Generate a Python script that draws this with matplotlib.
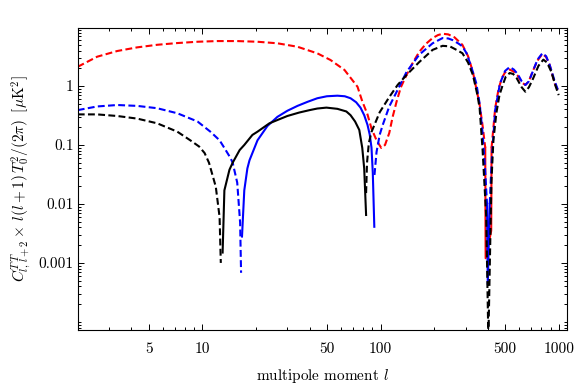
import numpy as np
import matplotlib
matplotlib.use("Agg")
import matplotlib.pyplot as plt
from matplotlib.ticker import FixedLocator, FixedFormatter, NullFormatter

plt.rcParams['font.family'] = 'serif'
plt.rcParams['font.serif'] = ['cmr10']
plt.rcParams['mathtext.fontset'] = 'cm'
plt.rcParams['axes.formatter.use_mathtext'] = True

# ---- data (l, |C_l| * l(l+1) T0^2 / 2pi) ----
# red: dashed everywhere except a short solid piece in the l~400 trough
red_dash_a_l = [2, 2.57, 3.33, 4.31, 5.58, 7.24, 9.4, 12.1, 15.7, 20.4, 26.4, 34.2, 44.2,
                52.4, 62.8, 74.3, 79, 84.5, 89, 95, 101, 106, 112, 117, 123, 130, 140,
                152, 165, 180, 196, 210, 223, 240, 260, 288, 310, 330, 345, 360, 375, 387]
red_dash_a_v = [2.12, 3.14, 3.92, 4.52, 5.0, 5.35, 5.63, 5.78, 5.78, 5.63, 5.3, 4.63, 3.58,
                2.76, 1.87, 0.97, 0.55, 0.33, 0.19, 0.12, 0.089, 0.1, 0.16, 0.3, 0.54,
                0.95, 1.54, 2.5, 3.8, 5.2, 6.5, 7.3, 7.7, 7.5, 6.7, 5.0, 3.2, 1.73, 0.9,
                0.48, 0.2, 0.09]
red_solid_l = [387, 389, 418, 420]
red_solid_v = [0.09, 0.0012, 0.0035, 0.09]
red_dash_b_l = [420, 440, 460, 480, 500, 531, 560, 588, 620, 650, 680, 712, 760, 810, 850,
                890, 950, 1000]
red_dash_b_v = [0.09, 0.42, 0.9, 1.37, 1.7, 1.9, 1.75, 1.5, 1.15, 1.04, 1.2, 1.73, 2.7,
                3.5, 3.1, 2.27, 1.1, 0.8]

# blue
blue_dash_a_l = [2, 2.57, 3.33, 4.31, 5.58, 7.24, 9.4, 11.1, 12.5, 13.3, 14.4, 14.8, 15.7,
                 16.3, 16.5]
blue_dash_a_v = [0.39, 0.45, 0.476, 0.46, 0.42, 0.345, 0.25, 0.168, 0.12, 0.089, 0.06,
                 0.05, 0.023, 0.0048, 0.00068]
blue_solid_a_l = [16.7, 17.2, 17.9, 18.4, 20.4, 23.2, 26.4, 30, 34.2, 39, 44.2, 50, 57.3,
                  63, 67.9, 73, 77.2, 81, 84.5, 87, 89, 90.5, 92.3]
blue_solid_a_v = [0.0028, 0.017, 0.04, 0.055, 0.12, 0.21, 0.3, 0.38, 0.46, 0.54, 0.62,
                  0.67, 0.685, 0.67, 0.62, 0.53, 0.43, 0.32, 0.22, 0.15, 0.09, 0.034,
                  0.0041]
blue_dash_b_l = [92.5, 95, 99, 103, 112, 123, 140, 165, 196, 223, 240, 254, 275, 288, 304,
                 325, 345, 360, 374, 386, 396]
blue_dash_b_v = [0.031, 0.076, 0.15, 0.22, 0.45, 0.79, 1.73, 3.4, 5.3, 6.5, 6.4, 6.0, 5.2,
                 4.7, 3.6, 2.0, 1.1, 0.5, 0.16, 0.04, 0.01]
blue_solid_b_l = [396, 400, 410]
blue_solid_b_v = [0.01, 0.00043, 0.01]
blue_dash_c_l = [410, 421, 440, 468, 500, 531, 560, 588, 620, 650, 680, 712, 760, 810, 850,
                 890, 950, 1000]
blue_dash_c_v = [0.01, 0.056, 0.39, 1.1, 1.8, 2.1, 1.9, 1.6, 1.2, 1.04, 1.2, 1.7, 2.8, 3.6,
                 3.2, 2.27, 1.2, 0.79]

# black
black_dash_a_l = [2, 2.57, 3.33, 4.31, 5.58, 7.24, 8.56, 9.6, 10.3, 10.9, 11.9, 12.5, 12.7]
black_dash_a_v = [0.33, 0.33, 0.31, 0.28, 0.233, 0.168, 0.12, 0.094, 0.073, 0.05, 0.0196,
                  0.006, 0.001]
black_solid_l = [13.0, 13.3, 14.2, 14.8, 16.2, 17.2, 19.1, 20.4, 23.8, 26.4, 30, 35, 40,
                 44.2, 49.7, 57.3, 64.3, 67.9, 72, 76, 79, 81, 83]
black_solid_v = [0.0015, 0.017, 0.038, 0.05, 0.082, 0.1, 0.148, 0.168, 0.233, 0.265, 0.31,
                 0.355, 0.39, 0.415, 0.43, 0.41, 0.37, 0.32, 0.25, 0.18, 0.089, 0.04,
                 0.0065]
black_dash_b_l = [83, 84, 86, 89, 92.5, 99, 112, 125, 140, 165, 196, 223, 245, 267, 288,
                  310, 330, 350, 360, 374, 392, 403, 419, 430, 447, 465, 485, 505, 531,
                  555, 580, 620, 650, 680, 712, 770, 820, 860, 910, 960, 1000]
black_dash_b_v = [0.0153, 0.05, 0.108, 0.166, 0.22, 0.36, 0.65, 1.05, 1.54, 2.55, 4.1, 4.8,
                  4.7, 4.1, 3.6, 2.5, 1.54, 0.7, 0.42, 0.082, 0.006, 5e-5, 0.023, 0.12,
                  0.35, 0.7, 1.04, 1.45, 1.66, 1.6, 1.37, 0.95, 0.8, 0.95, 1.26, 2.2, 2.8,
                  2.5, 1.73, 1.0, 0.7]

x_ticks = [5, 10, 50, 100, 500, 1000]
x_ticklabels = ['5', '10', '50', '100', '500', '1000']
y_ticks = [0.001, 0.01, 0.1, 1]
y_ticklabels = ['0.001', '0.01', '0.1', '1']

LW = 1.5
DASH = (3.3, 1.6)

fig = plt.figure(figsize=(5.76, 3.9), dpi=100)
ax = fig.add_axes([0.135, 0.154, 0.849, 0.774])

def dashed(l, v, c):
    ax.plot(l, v, color=c, lw=LW, dashes=DASH)

def solid(l, v, c):
    ax.plot(l, v, color=c, lw=LW)

solid(red_solid_l, red_solid_v, 'red')
dashed(red_dash_a_l, red_dash_a_v, 'red')
dashed(red_dash_b_l, red_dash_b_v, 'red')

dashed(blue_dash_a_l, blue_dash_a_v, 'blue')
solid(blue_solid_a_l, blue_solid_a_v, 'blue')
dashed(blue_dash_b_l, blue_dash_b_v, 'blue')
solid(blue_solid_b_l, blue_solid_b_v, 'blue')
dashed(blue_dash_c_l, blue_dash_c_v, 'blue')

dashed(black_dash_a_l, black_dash_a_v, 'black')
solid(black_solid_l, black_solid_v, 'black')
dashed(black_dash_b_l, black_dash_b_v, 'black')

ax.set_xscale('log')
ax.set_yscale('log')
ax.set_xlim(2, 1110)
ax.set_ylim(7.3e-5, 9.6)

ax.xaxis.set_major_locator(FixedLocator(x_ticks))
ax.xaxis.set_major_formatter(FixedFormatter(x_ticklabels))
x_minor = [m * d for d in (1, 10, 100) for m in range(2, 10)
           if m * d not in x_ticks] + [2000]
ax.xaxis.set_minor_locator(FixedLocator(x_minor))
ax.xaxis.set_minor_formatter(NullFormatter())

ax.yaxis.set_major_locator(FixedLocator(y_ticks))
ax.yaxis.set_major_formatter(FixedFormatter(y_ticklabels))
y_minor = [m * d for d in (1e-5, 1e-4, 1e-3, 1e-2, 0.1, 1) for m in range(2, 10)] + [1e-4]
ax.yaxis.set_minor_locator(FixedLocator(y_minor))
ax.yaxis.set_minor_formatter(NullFormatter())

ax.tick_params(which='both', direction='in', top=True, right=True, width=0.7,
               labelsize=11)
ax.tick_params(which='major', length=4)
ax.tick_params(which='minor', length=2.2)
ax.tick_params(axis='x', pad=9)
ax.tick_params(axis='y', pad=3)
for s in ax.spines.values():
    s.set_linewidth(0.8)

ax.set_xlabel('multipole moment $l$', fontsize=11, labelpad=8)
ax.set_ylabel(r'$C^{T\,T}_{l,\,l+2}\times\, l(l+1)\,T_0^2/(2\pi)\;\;[\mu\mathrm{K}^2]$',
              fontsize=11, labelpad=4)

fig.savefig('out.png', dpi=100)
